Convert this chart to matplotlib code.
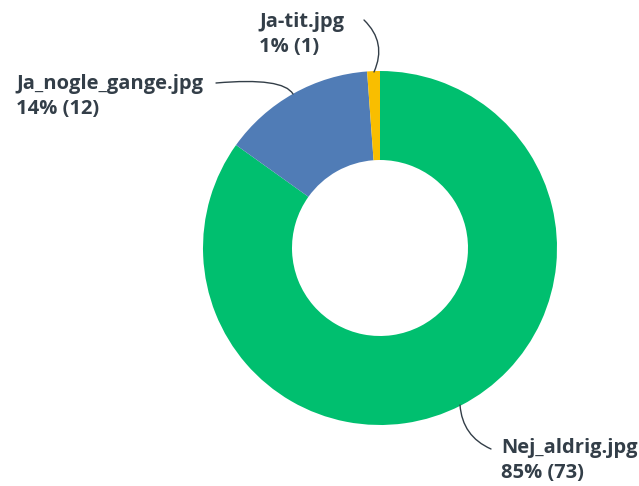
import matplotlib.pyplot as plt

# données du sondage
labels = ['Nej_aldrig.jpg', 'Ja_nogle_gange.jpg', 'Ja-tit.jpg']
counts = [73, 12, 1]
pcts = [85, 14, 1]
colors = ['#00BF6F', '#507CB6', '#F9BE00']

W, H = 639, 486
fig = plt.figure(figsize=(W / 100, H / 100), dpi=100)
ax = fig.add_axes([0, 0, 1, 1])

cx, cy, r = 380, H - 248, 177
ax.pie(counts, colors=colors, startangle=90, counterclock=False,
       center=(cx, cy), radius=r, frame=True,
       wedgeprops=dict(width=r - 88, linewidth=0))
ax.set_xlim(0, W)
ax.set_ylim(0, H)
ax.set_aspect('equal')
ax.axis('off')

txt = dict(fontsize=14.5, color='#333E48', family='Open Sans', fontweight='bold',
           va='top', ha='left', linespacing=1.32)
line = dict(arrowstyle='-', color='#333E48', lw=1.0, shrinkA=0, shrinkB=0)

# Ja-tit
ax.text(259, H - 12, f'{labels[2]}\n{pcts[2]}% ({counts[2]})', **txt)
ax.annotate('', xy=(374, H - 72), xytext=(364, H - 20),
            arrowprops=dict(connectionstyle='arc3,rad=-0.35', **line))

# Ja_nogle_gange
ax.text(16, H - 74, f'{labels[1]}\n{pcts[1]}% ({counts[1]})', **txt)
ax.annotate('', xy=(293, H - 94), xytext=(216, H - 83),
            arrowprops=dict(connectionstyle='angle3,angleA=5,angleB=120', **line))

# Nej_aldrig
ax.text(501, H - 438, f'{labels[0]}\n{pcts[0]}% ({counts[0]})', **txt)
ax.annotate('', xy=(460, H - 405), xytext=(491, H - 449),
            arrowprops=dict(connectionstyle='arc3,rad=-0.3', **line))

fig.savefig('out.png', dpi=100)
